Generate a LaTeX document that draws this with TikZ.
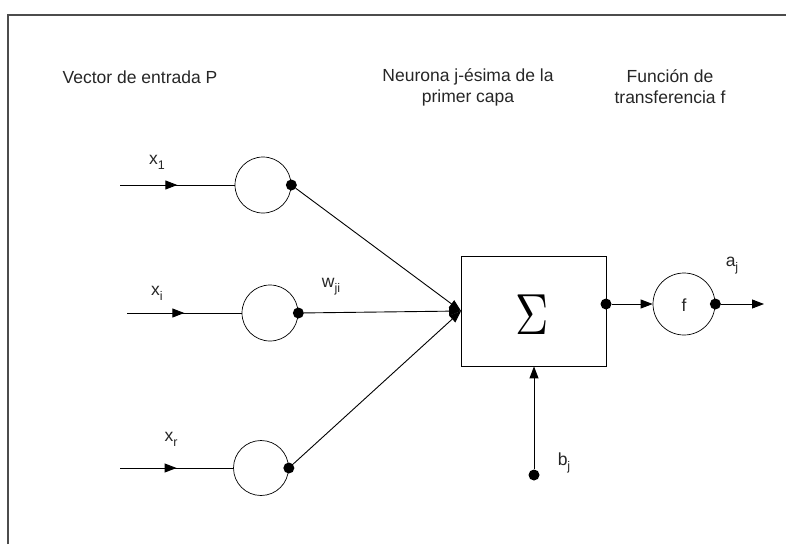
\documentclass[tikz,border=0pt]{standalone}
\usepackage{fontspec}
\setmainfont{Liberation Sans}
\usepackage{graphicx}
\usetikzlibrary{arrows.meta,decorations.markings}
\newcommand\mysub[1]{\raisebox{-5pt}{\fontsize{12.5}{13}\selectfont #1}}
\begin{document}
\begin{tikzpicture}[x=1pt,y=-1pt,
  txt/.style={font=\fontsize{17.5}{21}\selectfont, inner sep=0pt, align=center, text=black!85},
  lbl/.style={font=\fontsize{17.5}{20}\selectfont, inner sep=0pt, text=black!85},
  neuron/.style={draw, circle, line width=0.7pt, inner sep=0pt},
  dotn/.style={circle, fill=black, inner sep=0pt, minimum size=11pt},
  conn/.style={line width=0.9pt},
  tip/.style={-{Triangle[length=12pt,width=9pt]}},
  midtip/.style={postaction={decorate}, decoration={markings, mark=at position 0.5 with {\arrow{Triangle[length=12pt,width=9pt]}}}}
]
\useasboundingbox (0,0) rectangle (786,544);
% frame
\draw[line width=1.2pt, black!70] (8,544) -- (8,15) -- (786,15);

% headings
\node[txt] (h1) at (140,77) {Vector de entrada P};
\node[txt] (h2) at (468,87) {Neurona j-ésima de la\\primer capa};
\node[txt] (h3) at (670,87) {Función de\\transferencia f};

% input neurons
\node[neuron, minimum size=56pt] (n1) at (263,185) {};
\node[neuron, minimum size=56pt] (ni) at (270,313) {};
\node[neuron, minimum size=55pt] (nr) at (261,468) {};
\node[dotn] (d1) at (n1.east) {};
\node[dotn] (di) at (ni.east) {};
\node[dotn] (dr) at (nr.east) {};

% inputs
\coordinate (s1) at (120,185);
\coordinate (si) at (127,313);
\coordinate (sr) at (120,468);
\draw[conn, midtip] (s1) -- (n1.west);
\draw[conn, midtip] (si) -- (ni.west);
\draw[conn, midtip] (sr) -- (nr.west);
\node[lbl] (lx1) at (157,162) {x\mysub{1}};
\node[lbl] (lxi) at (157,293) {x\mysub{i}};
\node[lbl] (lxr) at (171,439) {x\mysub{r}};

% summation box
\node[draw, rectangle, line width=0.8pt, minimum width=145pt, minimum height=110pt, inner sep=0pt] (sum) at (534,311) {};
\node[inner sep=0pt] (sig) at (532,315) {\scalebox{4.6}[5.8]{$\Sigma$}};

% weights
\draw[conn, tip] (d1) -- (sum.west);
\draw[conn, tip] (di) -- (sum.west);
\draw[conn, tip] (dr) -- (sum.west);
\node[lbl] (lw) at (331,287) {w\mysub{ji}};

% output
\node[dotn] (dout) at (606,304) {};
\node[neuron, minimum size=62pt] (fn) at (684,304) {};
\node[lbl] (lf) at (684,305) {f};
\node[dotn] (dfn) at (fn.east) {};
\coordinate (aout) at (764,304);
\draw[conn, tip] (dout) -- (fn.west);
\draw[conn, tip] (dfn) -- (aout);
\node[lbl] (la) at (732,266) {a\mysub{j}};

% bias
\node[dotn] (db) at (534,475) {};
\draw[conn, tip] (db) -- (sum.south);
\node[lbl] (lb) at (564,463) {b\mysub{j}};
\end{tikzpicture}
\end{document}
